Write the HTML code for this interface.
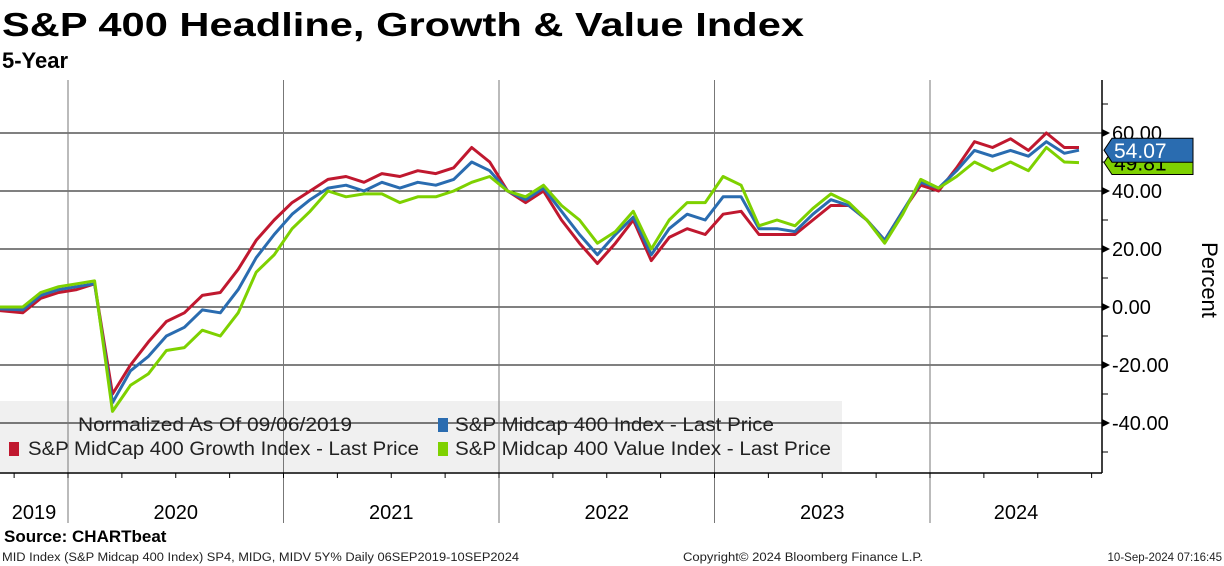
<!DOCTYPE html>
<html><head><meta charset="utf-8"><style>
body{margin:0;background:#fff;width:1224px;height:566px;overflow:hidden}
svg{display:block;font-family:"Liberation Sans",sans-serif}
</style></head><body>
<svg id="chart" width="1224" height="566" viewBox="0 0 1224 566">
<text x="2" y="36" font-size="33" font-weight="bold" textLength="802" lengthAdjust="spacingAndGlyphs">S&amp;P 400 Headline, Growth &amp; Value Index</text>
<text x="2" y="68" font-size="22" font-weight="bold">5-Year</text>
<rect x="0" y="401" width="842" height="71" fill="#f0f0f0"/>
<g id="grid"></g>
<g id="series"></g>
<g id="legend">
<text x="78" y="431" font-size="19" fill="#222" textLength="274" lengthAdjust="spacingAndGlyphs">Normalized As Of 09/06/2019</text>
<rect x="438" y="418" width="10" height="14" fill="#2a6cb0"/>
<text x="455" y="431" font-size="19" fill="#222" textLength="319" lengthAdjust="spacingAndGlyphs">S&amp;P Midcap 400 Index - Last Price</text>
<rect x="9" y="442" width="10" height="14" fill="#c0182f"/>
<text x="28" y="455" font-size="19" fill="#222" textLength="391" lengthAdjust="spacingAndGlyphs">S&amp;P MidCap 400 Growth Index - Last Price</text>
<rect x="438" y="442" width="10" height="14" fill="#7ed100"/>
<text x="455" y="455" font-size="19" fill="#222" textLength="376" lengthAdjust="spacingAndGlyphs">S&amp;P Midcap 400 Value Index - Last Price</text>
</g>
<g id="axes"></g>
<text x="1202" y="280" font-size="22" transform="rotate(90 1202 280)" text-anchor="middle">Percent</text>
<text x="4" y="542" font-size="17" font-weight="bold">Source: CHARTbeat</text>
<text x="2" y="561" font-size="11.5" fill="#222" textLength="517" lengthAdjust="spacingAndGlyphs">MID Index (S&amp;P Midcap 400 Index) SP4, MIDG, MIDV 5Y%  Daily 06SEP2019-10SEP2024</text>
<text x="683" y="561" font-size="11.5" fill="#222" textLength="240" lengthAdjust="spacingAndGlyphs">Copyright© 2024 Bloomberg Finance L.P.</text>
<text x="1222" y="561" font-size="11.5" fill="#222" text-anchor="end">10-Sep-2024 07:16:45</text>
</svg>
<script>
const months = ["2019-09","2019-10","2019-11","2019-12","2020-01","2020-02","2020-03","2020-04","2020-05","2020-06","2020-07","2020-08","2020-09","2020-10","2020-11","2020-12","2021-01","2021-02","2021-03","2021-04","2021-05","2021-06","2021-07","2021-08","2021-09","2021-10","2021-11","2021-12","2022-01","2022-02","2022-03","2022-04","2022-05","2022-06","2022-07","2022-08","2022-09","2022-10","2022-11","2022-12","2023-01","2023-02","2023-03","2023-04","2023-05","2023-06","2023-07","2023-08","2023-09","2023-10","2023-11","2023-12","2024-01","2024-02","2024-03","2024-04","2024-05","2024-06","2024-07","2024-08","2024-09"];
const growth = [0,-2,3,5,6,8,-30,-20,-12,-5,-2,4,5,13,23,30,36,40,44,45,43,46,45,47,46,48,55,50,40,36,40,30,22,15,22,30,16,24,27,25,32,33,25,25,25,30,35,35,30,23,33,42,40,48,57,55,58,54,60,55,55];
const headline = [0,-1,4,6,7,8,-33,-22,-17,-10,-7,-1,-2,6,17,25,32,37,41,42,40,43,41,43,42,44,50,47,40,37,41,33,25,18,25,31,18,27,32,30,38,38,27,27,26,32,37,35,30,23,33,43,41,47,54,52,54,52,57,53,54.07];
const value = [0,0,5,7,8,9,-36,-27,-23,-15,-14,-8,-10,-2,12,18,27,33,40,38,39,39,36,38,38,40,43,45,40,38,42,35,30,22,26,33,20,30,36,36,45,42,28,30,28,34,39,36,30,22,32,44,41,45,50,47,50,47,55,50,49.81];
const yTicks = [-40,-20,0,20,40,60];
const years = ["2019","2020","2021","2022","2023","2024"];

const X1=1102, T0=2019+185/365, T1=2024+253/366;
const xOfT = t => 68 + (t-2020)*215.5;
const yOf = v => 307 - v*2.9;
const tOfMonth = m => { const [y,mo]=m.split("-").map(Number); return y+(mo-1)/12 + 0.04; };
const tAt = i => i===0 ? T0 : (i===months.length-1 ? T1 : tOfMonth(months[i]));
const NS="http://www.w3.org/2000/svg";
function mk(tag,attrs,parent){const e=document.createElementNS(NS,tag);for(const k in attrs)e.setAttribute(k,attrs[k]);parent.appendChild(e);return e;}
const grid=document.getElementById('grid'), axes=document.getElementById('axes'), ser=document.getElementById('series');

yTicks.forEach(v=>{
  const l=mk('line',{x1:0,x2:X1,y1:yOf(v),y2:yOf(v),stroke:'#000','stroke-width':1},grid);
  
  
  const t=mk('text',{x:1112,y:yOf(v)+7,'font-size':20},axes);
  t.textContent=v.toFixed(2);
  
  
  mk('polygon',{points:`${X1},${yOf(v)-4} ${X1+8},${yOf(v)} ${X1},${yOf(v)+4}`,fill:'#000'},axes);
});
[-50,-30,-10,10,30,50,70].forEach(v=>mk('line',{x1:X1,x2:X1+6,y1:yOf(v),y2:yOf(v),stroke:'#000'},axes));
for(let y=2020;y<=2024;y++){
  const x=xOfT(y);
  const l=mk('line',{x1:x,x2:x,y1:80,y2:523,stroke:'#777','stroke-width':1},grid);
  
  
}
mk('line',{x1:X1,x2:X1,y1:80,y2:473,stroke:'#000','stroke-width':1.5},axes);
mk('line',{x1:0,x2:X1,y1:473,y2:473,stroke:'#000','stroke-width':1.5},axes);
for(let q=0;q<22;q++){const x=xOfT(2019.75+q*0.25);if(x>0&&x<X1)mk('line',{x1:x,x2:x,y1:473,y2:478,stroke:'#000'},axes);}
years.forEach((y,i)=>{
  const a=Math.max(0,xOfT(+y)), b=Math.min(X1, xOfT(+y+1));
  const t=mk('text',{x:(a+b)/2,y:519,'font-size':20,'text-anchor':'middle'},axes);
  t.textContent=y;
  
  
});
function draw(arr,color,name){
  const d=arr.map((v,i)=>(i?'L':'M')+xOfT(tAt(i)).toFixed(1)+','+yOf(v).toFixed(1)).join(' ');
  const p=mk('path',{d,fill:'none',stroke:color,'stroke-width':3,'stroke-linejoin':'round'},ser);
  
  
}
draw(growth,'#c0182f','growth-line');
draw(headline,'#2a6cb0','headline-line');
draw(value,'#7ed100','value-line');
function tag(v,color,txtColor,name){
  const y=yOf(v);
  const g=mk('g',{},axes);
  
  
  mk('polygon',{points:`${1104},${y} ${1112},${y-12} ${1193},${y-12} ${1193},${y+12} ${1112},${y+12}`,fill:color,stroke:'#000','stroke-width':1},g);
  const t=mk('text',{x:1114,y:y+8,'font-size':21,fill:txtColor},g);
  t.textContent=v.toFixed(2);
}
tag(value[value.length-1],'#7ed100','#000','last-value-tag');
tag(headline[headline.length-1],'#2a6cb0','#fff','last-headline-tag');
</script>
</body></html>
